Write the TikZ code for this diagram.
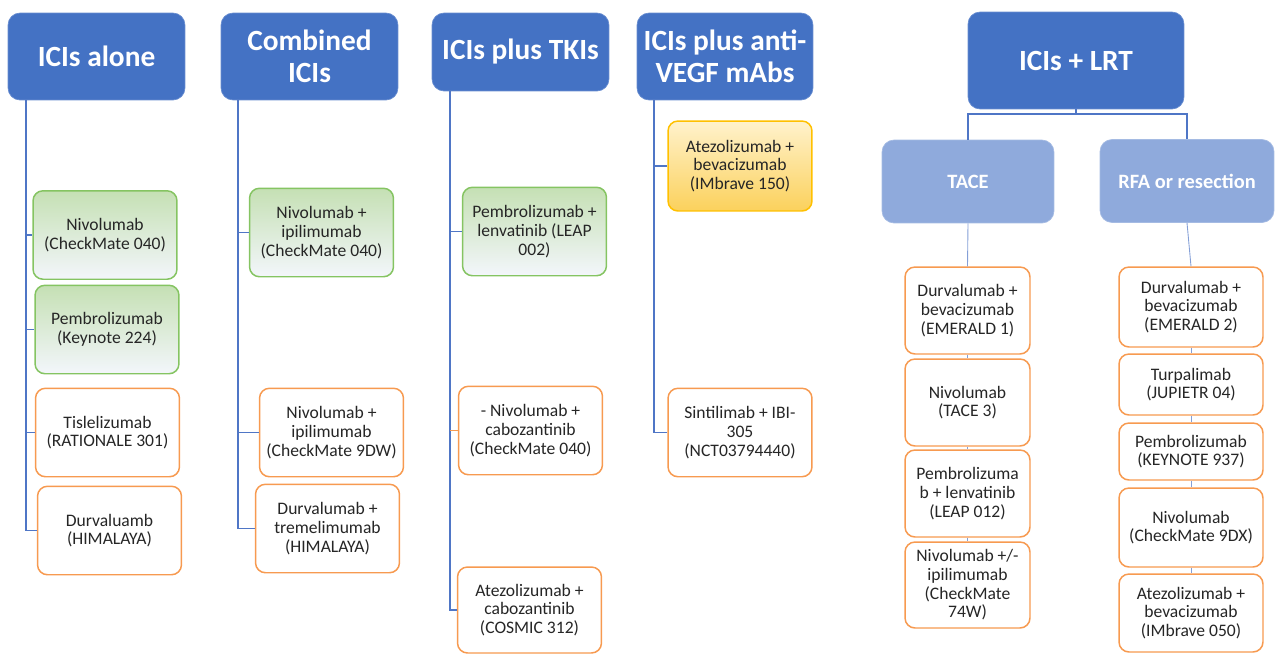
\documentclass[tikz,border=0pt]{standalone}
\usepackage{fontspec}
\setmainfont{Carlito}
\usepackage{xcolor}

\definecolor{hdblue}{HTML}{4472C4}
\definecolor{lrtblue}{HTML}{8FAADC}
\definecolor{lnblue}{HTML}{4F76C6}
\definecolor{trorange}{HTML}{F79A50}
\definecolor{grline}{HTML}{85C462}
\definecolor{grtop}{HTML}{C5E0B4}
\definecolor{grbot}{HTML}{F3F6FB}
\definecolor{gdline}{HTML}{FFC000}
\definecolor{gdtop}{HTML}{FFF2CC}
\definecolor{gdmid}{HTML}{FFDB6E}
\definecolor{gdbot}{HTML}{FBD15C}

\tikzset{
  hdbox/.style={rectangle, rounded corners=0.24cm, fill=hdblue, draw=hdblue!80!white,
    text=white, align=center, font=\fontsize{16.7}{18.5}\selectfont\bfseries,
    minimum width=3.54cm, minimum height=1.74cm, inner sep=1pt},
  lrtbox/.style={rectangle, rounded corners=0.24cm, fill=lrtblue, draw=lrtblue!80!white,
    text=white, align=center, font=\fontsize{11.6}{13}\selectfont\bfseries,
    minimum width=3.44cm, minimum height=1.66cm},
  trial/.style={rectangle, rounded corners=0.2cm, draw=trorange, fill=white, line width=0.85pt,
    text=black!85, align=center, font=\fontsize{10}{10.6}\selectfont,
    minimum width=2.88cm, minimum height=1.77cm, inner sep=1pt},
  approved/.style={trial, draw=grline, top color=grtop, bottom color=grbot},
  goldtrial/.style={trial, draw=gdline, top color=gdtop, middle color=gdmid, bottom color=gdbot},
  link/.style={draw=lnblue, line width=1pt},
  thinlink/.style={draw=lnblue!70!white, line width=0.5pt},
}

\begin{document}
\begin{tikzpicture}[x=0.02cm, y=-0.02cm]
\useasboundingbox (0,0) rectangle (1275,653);

\node[hdbox] (h1) at (96.5,56.5) {ICIs alone};
\node[hdbox] (h2) at (309.5,56.5) {Combined\\ICIs};
\node[hdbox, minimum height=1.56cm] (h3) at (520.5,52) {ICIs plus TKIs};
\node[hdbox, minimum width=3.52cm] (h4) at (725,56.5) {ICIs plus anti-\\VEGF mAbs};
\node[hdbox, minimum width=4.32cm, minimum height=1.94cm] (h5) at (1076,60.5) {ICIs + LRT};

\node[lrtbox] (tace) at (968,181.5) {TACE};
\node[lrtbox, minimum width=3.48cm] (rfa) at (1187,181) {RFA or resection};

\node[approved] (a1) at (105,235) {Nivolumab\\(CheckMate 040)};
\node[approved] (a2) at (107,329.5) {Pembrolizumab\\(Keynote 224)};
\node[trial] (a3) at (107.5,432.5) {Tislelizumab\\(RATIONALE 301)};
\node[trial] (a4) at (109.5,530.5) {Durvaluamb\\(HIMALAYA)};

\node[approved] (b1) at (321.5,232.5) {Nivolumab +\\ipilimumab\\(CheckMate 040)};
\node[trial] (b2) at (331.5,432.5) {Nivolumab +\\ipilimumab\\(CheckMate 9DW)};
\node[trial] (b3) at (327.5,528.5) {Durvalumab +\\tremelimumab\\(HIMALAYA)};

\node[approved] (k1) at (534.5,231.5) {Pembrolizumab +\\lenvatinib (LEAP\\002)};
\node[trial] (k2) at (530.5,430.5) {- Nivolumab +\\cabozantinib\\(CheckMate 040)};
\node[trial, minimum height=1.72cm] (k3) at (529.5,610) {Atezolizumab +\\cabozantinib\\(COSMIC 312)};

\node[goldtrial, minimum height=1.8cm] (v1) at (740,166) {Atezolizumab +\\bevacizumab\\(IMbrave 150)};
\node[trial] (v2) at (740,432.5) {Sintilimab + IBI-\\305\\(NCT03794440)};

\node[trial, minimum width=2.5cm, minimum height=1.74cm] (e1) at (967.5,310.5) {Durvalumab +\\bevacizumab\\(EMERALD 1)};
\node[trial, minimum width=2.5cm, minimum height=1.74cm] (e2) at (967.5,402.5) {Nivolumab\\(TACE 3)};
\node[trial, minimum width=2.5cm, minimum height=1.74cm] (e3) at (967.5,493.5) {Pembrolizuma\\b + lenvatinib\\(LEAP 012)};
\node[trial, minimum width=2.5cm, minimum height=1.72cm] (e4) at (967.5,585) {Nivolumab +/-\\ipilimumab\\(CheckMate\\74W)};

\node[trial, minimum height=1.6cm] (r1) at (1191,307) {Durvalumab +\\bevacizumab\\(EMERALD 2)};
\node[trial, minimum height=1.22cm] (r2) at (1191,384.5) {Turpalimab\\(JUPIETR 04)};
\node[trial, minimum height=1.14cm] (r3) at (1191,451.5) {Pembrolizumab\\(KEYNOTE 937)};
\node[trial, minimum height=1.58cm] (r4) at (1191,527.5) {Nivolumab\\(CheckMate 9DX)};
\node[trial, minimum height=1.56cm] (r5) at (1191,613) {Atezolizumab +\\bevacizumab\\(IMbrave 050)};

\coordinate (c1) at (26,100);
\coordinate (c2) at (238,100);
\coordinate (c3) at (450,91);
\coordinate (c4) at (654,100);

\foreach \n in {a1,a2,a3,a4} \draw[link] (c1) |- (\n.west);
\foreach \n in {b1,b2,b3} \draw[link] (c2) |- (\n.west);
\foreach \n in {k1,k3} \draw[link] (c3) |- (\n.west);
\draw[trorange, line width=0.85pt] (c3 |- k2.west) -- (k2.west);
\foreach \n in {v1,v2} \draw[link] (c4) |- (\n.west);

\draw[link] (h5.south) -- ++(0,5) -| (tace.north);
\draw[link] (h5.south) -- ++(0,5) -| (rfa.north);

\draw[thinlink] (tace.south) -- (e1.north);
\draw[thinlink] (e1.south) -- (e2.north);
\draw[thinlink] (e2.south) -- (e3.north);
\draw[thinlink] (e3.south) -- (e4.north);
\draw[thinlink] (rfa.south) -- (r1.north);
\draw[thinlink] (r1.south) -- (r2.north);
\draw[thinlink] (r2.south) -- (r3.north);
\draw[thinlink] (r3.south) -- (r4.north);
\draw[thinlink] (r4.south) -- (r5.north);

\end{tikzpicture}
\end{document}
